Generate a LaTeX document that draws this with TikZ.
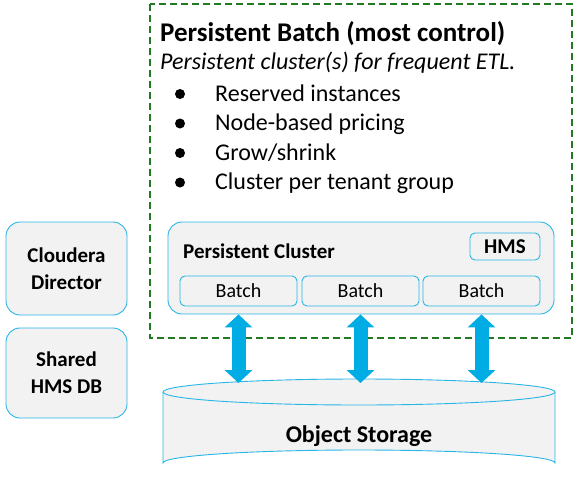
\documentclass[tikz,border=0pt]{standalone}
\usepackage{fontspec}
\setmainfont{Carlito}
\usetikzlibrary{arrows.meta}
\definecolor{boxline}{RGB}{40,182,232}
\definecolor{boxfill}{RGB}{242,242,242}
\definecolor{flowblue}{RGB}{0,172,228}
\definecolor{dashgreen}{RGB}{34,122,34}

\begin{document}
\begin{tikzpicture}[x=1pt,y=-1pt,
 bigbox/.style={draw=boxline, fill=boxfill, line width=0.9pt, rounded corners=14pt, align=center, font=\fontsize{21}{27}\selectfont\bfseries},
 smallbox/.style={draw=boxline, line width=0.9pt, rounded corners=5pt, inner sep=0pt},
 bulletdot/.style={circle, fill=black, inner sep=0pt, minimum size=10pt},
 itemtext/.style={anchor=base west, font=\fontsize{24}{28}\selectfont, inner sep=0pt},
 flow/.style={draw=flowblue, line width=14pt, {Triangle[length=13pt,width=27pt]}-{Triangle[length=13pt,width=27pt]}}]
\useasboundingbox (0,0) rectangle (574,480);
%\draw[help lines] (0,0) grid[step=20pt] (574,480);

% dashed group
\draw[dashgreen, line width=1.6pt, dash pattern=on 7pt off 4pt] (150,4) rectangle (572,338);

\node[anchor=base west, inner sep=0pt, font=\fontsize{27}{30}\selectfont\bfseries] (title) at (160,41) {Persistent Batch (most control)};
\node[anchor=base west, inner sep=0pt, font=\fontsize{24}{28}\selectfont\itshape] (sub) at (160,69) {Persistent cluster(s) for frequent ETL.};

\node[bulletdot] (d1) at (180,94) {};
\node[itemtext] (i1) at (215,101) {Reserved instances};
\node[bulletdot] (d2) at (180,123.5) {};
\node[itemtext] (i2) at (215,130.5) {Node-based pricing};
\node[bulletdot] (d3) at (180,153) {};
\node[itemtext] (i3) at (215,160) {Grow/shrink};
\node[bulletdot] (d4) at (180,182.5) {};
\node[itemtext] (i4) at (215,189.5) {Cluster per tenant group};

% left boxes
\node[bigbox, minimum width=121pt, minimum height=93pt] (cd) at (66.5,268.5) {Cloudera\\Director};
\node[bigbox, minimum width=121pt, minimum height=90pt] (hmsdb) at (66.5,373) {Shared\\HMS DB};

% cluster
\node[bigbox, minimum width=386pt, minimum height=92pt] (pc) at (361,268) {};
\node[anchor=west, inner sep=0pt, font=\fontsize{21}{24}\selectfont\bfseries] (pclabel) at (183,251) {Persistent Cluster};
\node[smallbox, minimum width=70pt, minimum height=27pt, font=\fontsize{21}{24}\selectfont\bfseries] (hms) at (505,246.5) {HMS};
\node[smallbox, minimum width=117pt, minimum height=30pt, font=\fontsize{20}{24}\selectfont] (b1) at (238.5,291) {Batch};
\node[smallbox, minimum width=117pt, minimum height=30pt, font=\fontsize{20}{24}\selectfont] (b2) at (360.5,291) {Batch};
\node[smallbox, minimum width=117pt, minimum height=30pt, font=\fontsize{20}{24}\selectfont] (b3) at (481.5,291) {Batch};

% storage
\draw[draw=boxline, fill=boxfill, line width=0.9pt] (163,392) -- (163,463) arc[start angle=180, end angle=360, x radius=196, y radius=13] -- (555,392);
\draw[draw=boxline, fill=boxfill, line width=0.9pt] (359,392) ellipse[x radius=196, y radius=13];
\node[font=\fontsize{24}{28}\selectfont\bfseries] (store) at (359,436) {Object Storage};
\coordinate (stop) at (359,383);

\draw[flow] (b1 |- pc.south) -- (b1 |- stop);
\draw[flow] (b2 |- pc.south) -- (b2 |- stop);
\draw[flow] (b3 |- pc.south) -- (b3 |- stop);

\end{tikzpicture}
\end{document}
